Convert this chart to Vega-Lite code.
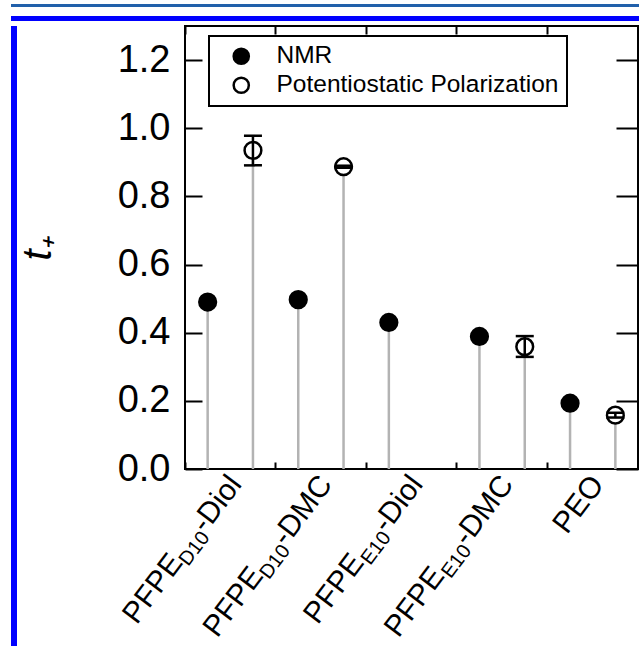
{
  "$schema": "https://vega.github.io/schema/vega-lite/v6.json",
  "padding": {"left": 11, "top": 4, "right": 0, "bottom": 0},
  "background": "white",
  "config": {"view": {"stroke": null}, "font": "Liberation Sans", "legend": {"strokeWidth": 2}},
  "datasets": {
    "pts": [
      {"sample": "PFPE-D10-Diol", "method": "NMR", "t": 0.49},
      {"sample": "PFPE-D10-Diol", "method": "Potentiostatic Polarization", "t": 0.935, "lo": 0.891, "hi": 0.978},
      {"sample": "PFPE-D10-DMC", "method": "NMR", "t": 0.497},
      {"sample": "PFPE-D10-DMC", "method": "Potentiostatic Polarization", "t": 0.887, "lo": 0.884, "hi": 0.89},
      {"sample": "PFPE-E10-Diol", "method": "NMR", "t": 0.43},
      {"sample": "PFPE-E10-DMC", "method": "NMR", "t": 0.389},
      {"sample": "PFPE-E10-DMC", "method": "Potentiostatic Polarization", "t": 0.359, "lo": 0.329, "hi": 0.39},
      {"sample": "PEO", "method": "NMR", "t": 0.193},
      {"sample": "PEO", "method": "Potentiostatic Polarization", "t": 0.158, "lo": 0.151, "hi": 0.165}
    ],
    "labels": [
      {"sample": "PFPE-D10-Diol", "pre": "PFPE", "sub": "D10", "suf": "-Diol"},
      {"sample": "PFPE-D10-DMC", "pre": "PFPE", "sub": "D10", "suf": "-DMC"},
      {"sample": "PFPE-E10-Diol", "pre": "PFPE", "sub": "E10", "suf": "-Diol"},
      {"sample": "PFPE-E10-DMC", "pre": "PFPE", "sub": "E10", "suf": "-DMC"},
      {"sample": "PEO", "pre": "", "sub": "", "suf": "PEO"}
    ]
  },
  "spacing": 9,
  "vconcat": [
    {"width": 630, "height": 3, "data": {"values": [{}]}, "mark": {"type": "rect", "color": "#2160aa"}, "encoding": {}},
    {
      "spacing": 3,
      "vconcat": [
        {"width": 630, "height": 5, "data": {"values": [{}]}, "mark": {"type": "rect", "color": "#0000ff"}, "encoding": {}},
        {
          "spacing": 0,
          "hconcat": [
            {"width": 6, "height": 622, "data": {"values": [{}]}, "mark": {"type": "rect", "color": "#0000ff"}, "encoding": {}},
            {
              "width": 453,
              "height": 443,
              "view": {"stroke": "black", "strokeWidth": 2},
              "resolve": {"axis": {"x": "independent", "y": "independent"}},
              "layer": [
                {
                  "data": {"name": "pts"},
                  "mark": {"type": "rule", "color": "#b3b3b3", "strokeWidth": 2.5},
                  "encoding": {
                    "x": {"field": "sample", "type": "nominal",
                      "scale": {"domain": ["PFPE-D10-Diol", "PFPE-D10-DMC", "PFPE-E10-Diol", "PFPE-E10-DMC", "PEO"], "paddingInner": 0, "paddingOuter": 0},
                      "axis": {"orient": "bottom", "labels": false, "title": null, "domain": false, "ticks": true, "tickSize": -7, "tickWidth": 2, "tickColor": "black", "bandPosition": 0}},
                    "xOffset": {"field": "method", "type": "nominal", "scale": {"domain": ["NMR", "Potentiostatic Polarization"], "paddingInner": 0, "paddingOuter": 0}},
                    "y": {"field": "t", "type": "quantitative",
                      "scale": {"domain": [0, 1.3], "nice": false, "zero": true},
                      "axis": {"orient": "left", "values": [0, 0.2, 0.4, 0.6, 0.8, 1.0, 1.2], "format": ".1f", "domain": false, "grid": false, "ticks": true, "tickSize": -17, "tickWidth": 2, "tickColor": "black", "labelFont": "Liberation Sans", "labelFontSize": 38, "labelColor": "black", "labelPadding": 32, "title": "t₊", "titleFont": "Liberation Sans", "titleFontSize": 40, "titleFontStyle": "italic", "titleFontWeight": "normal", "titleColor": "black", "titlePadding": 59}},
                    "y2": {"datum": 0}
                  }
                },
                {
                  "data": {"name": "pts"},
                  "mark": {"type": "point", "filled": true, "shape": "circle", "size": 280, "stroke": "black", "strokeWidth": 2.5, "opacity": 1},
                  "encoding": {
                    "x": {"field": "sample", "type": "nominal", "axis": null},
                    "xOffset": {"field": "method", "type": "nominal", "scale": {"domain": ["NMR", "Potentiostatic Polarization"], "paddingInner": 0, "paddingOuter": 0}},
                    "y": {"field": "t", "type": "quantitative", "axis": null},
                    "fill": {"field": "method", "type": "nominal",
                      "scale": {"domain": ["NMR", "Potentiostatic Polarization"], "range": ["black", "white"]},
                      "legend": {"title": null, "orient": "none", "legendX": 198, "legendY": 32, "direction": "vertical", "labelFont": "Liberation Sans", "labelFontSize": 24.5, "labelColor": "black", "labelLimit": 500, "symbolType": "circle", "symbolSize": 230, "symbolStrokeColor": "black", "symbolStrokeWidth": 2.5, "strokeColor": "black", "fillColor": "white", "padding": 8, "rowPadding": 3, "symbolOffset": 12, "labelOffset": 23}}
                  }
                },
                {
                  "data": {"name": "pts"},
                  "transform": [{"filter": "isValid(datum.hi)"}],
                  "mark": {"type": "rule", "color": "black", "strokeWidth": 2.5},
                  "encoding": {
                    "x": {"field": "sample", "type": "nominal",
                      "axis": {"orient": "top", "labels": false, "title": null, "domain": false, "ticks": true, "tickSize": -8, "tickWidth": 2, "tickColor": "black", "bandPosition": 0}},
                    "xOffset": {"field": "method", "type": "nominal", "scale": {"domain": ["NMR", "Potentiostatic Polarization"], "paddingInner": 0, "paddingOuter": 0}},
                    "y": {"field": "lo", "type": "quantitative",
                      "axis": {"orient": "right", "labels": false, "title": null, "domain": false, "grid": false, "values": [0, 0.2, 0.4, 0.6, 0.8, 1.0, 1.2], "ticks": true, "tickSize": -22, "tickWidth": 2, "tickColor": "black"}},
                    "y2": {"field": "hi"}
                  }
                },
                {
                  "data": {"name": "pts"},
                  "transform": [{"filter": "isValid(datum.hi)"}],
                  "mark": {"type": "tick", "orient": "horizontal", "size": 18, "thickness": 2.5, "color": "black", "opacity": 1},
                  "encoding": {
                    "x": {"field": "sample", "type": "nominal", "axis": null},
                    "xOffset": {"field": "method", "type": "nominal", "scale": {"domain": ["NMR", "Potentiostatic Polarization"], "paddingInner": 0, "paddingOuter": 0}},
                    "y": {"field": "lo", "type": "quantitative", "axis": null}
                  }
                },
                {
                  "data": {"name": "pts"},
                  "transform": [{"filter": "isValid(datum.hi)"}],
                  "mark": {"type": "tick", "orient": "horizontal", "size": 18, "thickness": 2.5, "color": "black", "opacity": 1},
                  "encoding": {
                    "x": {"field": "sample", "type": "nominal", "axis": null},
                    "xOffset": {"field": "method", "type": "nominal", "scale": {"domain": ["NMR", "Potentiostatic Polarization"], "paddingInner": 0, "paddingOuter": 0}},
                    "y": {"field": "hi", "type": "quantitative", "axis": null}
                  }
                },
                {
                  "data": {"name": "labels"},
                  "mark": {"type": "text", "angle": -53, "align": "right", "baseline": "alphabetic", "dx": -5.1, "dy": 19.4, "fontSize": 30, "font": "Liberation Sans", "color": "black"},
                  "encoding": {
                    "x": {"field": "sample", "type": "nominal", "axis": null},
                    "y": {"datum": 0, "type": "quantitative", "axis": null},
                    "text": {"field": "suf"}
                  }
                },
                {
                  "data": {"name": "labels"},
                  "transform": [{"filter": "datum.suf == '-Diol'"}],
                  "mark": {"type": "text", "angle": -53, "align": "right", "baseline": "alphabetic", "dx": -66.8, "dy": 25.4, "fontSize": 20, "font": "Liberation Sans", "color": "black"},
                  "encoding": {
                    "x": {"field": "sample", "type": "nominal", "axis": null},
                    "y": {"datum": 0, "type": "quantitative", "axis": null},
                    "text": {"field": "sub"}
                  }
                },
                {
                  "data": {"name": "labels"},
                  "transform": [{"filter": "datum.suf == '-DMC'"}],
                  "mark": {"type": "text", "angle": -53, "align": "right", "baseline": "alphabetic", "dx": -83.4, "dy": 25.4, "fontSize": 20, "font": "Liberation Sans", "color": "black"},
                  "encoding": {
                    "x": {"field": "sample", "type": "nominal", "axis": null},
                    "y": {"datum": 0, "type": "quantitative", "axis": null},
                    "text": {"field": "sub"}
                  }
                },
                {
                  "data": {"name": "labels"},
                  "transform": [{"filter": "datum.suf == '-Diol'"}],
                  "mark": {"type": "text", "angle": -53, "align": "right", "baseline": "alphabetic", "dx": -103.0, "dy": 19.4, "fontSize": 30, "font": "Liberation Sans", "color": "black"},
                  "encoding": {
                    "x": {"field": "sample", "type": "nominal", "axis": null},
                    "y": {"datum": 0, "type": "quantitative", "axis": null},
                    "text": {"field": "pre"}
                  }
                },
                {
                  "data": {"name": "labels"},
                  "transform": [{"filter": "datum.suf == '-DMC'"}],
                  "mark": {"type": "text", "angle": -53, "align": "right", "baseline": "alphabetic", "dx": -119.6, "dy": 19.4, "fontSize": 30, "font": "Liberation Sans", "color": "black"},
                  "encoding": {
                    "x": {"field": "sample", "type": "nominal", "axis": null},
                    "y": {"datum": 0, "type": "quantitative", "axis": null},
                    "text": {"field": "pre"}
                  }
                }
              ]
            }
          ]
        }
      ]
    }
  ]
}
